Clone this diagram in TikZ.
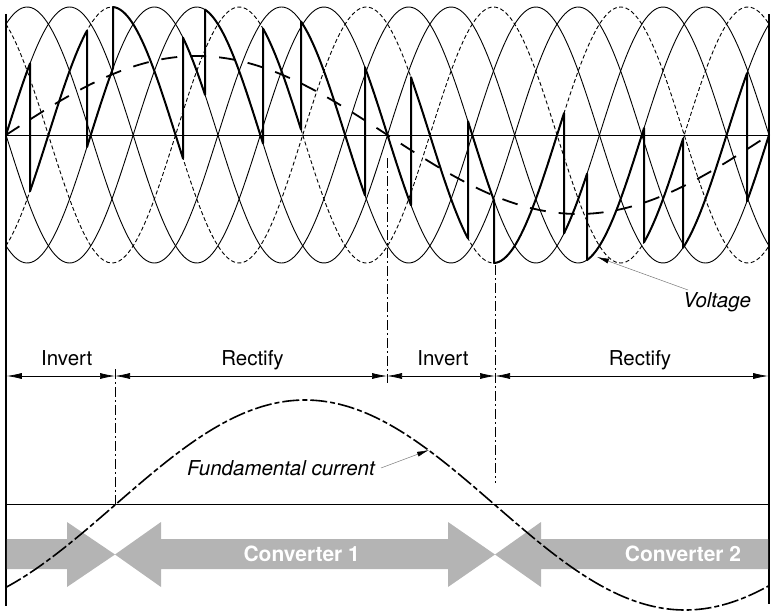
\documentclass[tikz,border=0pt]{standalone}
\usepackage{fontspec}
\setmainfont{TeX Gyre Heros}
\usetikzlibrary{arrows.meta}
\definecolor{arrowgray}{RGB}{180,180,180}
\definecolor{leadergray}{RGB}{120,120,120}
\begin{document}
\begin{tikzpicture}[x=1pt,y=-1pt,
  sinesolid/.style={line width=0.9pt},
  sinedash/.style={line width=0.9pt, dash pattern=on 4pt off 2.5pt},
  wavethick/.style={line width=2pt, line join=round, line cap=round},
  refvolt/.style={line width=1.8pt, dash pattern=on 16pt off 13pt},
  currentcurve/.style={line width=1.6pt, dash pattern=on 17pt off 3pt on 5pt off 3pt},
  dashdotline/.style={line width=0.9pt, dash pattern=on 10pt off 3pt on 2pt off 3pt},
  framel/.style={line width=1.5pt},
  dimline/.style={line width=0.7pt, {Latex[length=15pt,width=6pt]}-{Latex[length=15pt,width=6pt]}},
  lbl/.style={font=\fontsize{20.5}{24}\selectfont, anchor=base, inner sep=0pt},
  itlbl/.style={font=\fontsize{20.5}{24}\selectfont\itshape, anchor=base, inner sep=0pt},
  convlbl/.style={font=\fontsize{21}{24}\selectfont\bfseries, text=white, anchor=base, inner sep=0pt},
  leader/.style={line width=0.5pt, draw=leadergray, -{Latex[length=12pt,width=5pt,black]}},
  grayarrow/.style={fill=arrowgray, draw=none}
]
\useasboundingbox (0,0) rectangle (773,615);

% six supply phase voltages
\foreach \p in {0,120,180,300}
  \draw[sinesolid] plot[domain=6:769,samples=300] (\x,{135-128*sin((\x-6)*1.415465-\p)});
\foreach \p in {60,240}
  \draw[sinedash] plot[domain=6:769,samples=300] (\x,{135-128*sin((\x-6)*1.415465-\p)});

% axis
\draw[line width=1pt] (6,135) -- (769,135);

% dash-dot boundaries
\draw[dashdotline] (115,369) -- (115,504);
\draw[dashdotline] (387,158) -- (387,383);
\draw[dashdotline] (495,265) -- (495,483);

% output voltage (thick)
\foreach \p/\a/\b/\q in {0/6/30/60, 60/30/87/120, 120/87/113/60, 60/113/183/120,
  120/183/205/180, 180/205/263/240, 240/263/301/300, 300/301/365/0,
  0/365/411/60, 60/411/468/120, 120/468/494/60, 60/494/564/120,
  120/564/587/180, 180/587/644/240, 240/644/683/300, 300/683/747/0, 0/747/769/0}
  \draw[wavethick] plot[domain=\a:\b,samples=30] (\x,{135-128*sin((\x-6)*1.415465-\p)})
     -- (\b,{135-128*sin((\b-6)*1.415465-\q)});

% fundamental output voltage (dashed)
\draw[refvolt] plot[domain=6:769,samples=200] (\x,{135-79*sin((\x-6)*0.471822)});

% frame
\draw[framel] (6,14) -- (6,606);
\draw[framel] (769,14) -- (769,604);

% dimension arrows
\coordinate (d0) at (6.8,376);
\coordinate (d1) at (115,376);
\coordinate (d2) at (387,376);
\coordinate (d3) at (495,376);
\coordinate (d4) at (768.2,376);
\draw[dimline] (d0) -- (d1);
\draw[dimline] (d1) -- (d2);
\draw[dimline] (d2) -- (d3);
\draw[dimline] (d3) -- (d4);
\node[lbl] (inv1) at (66.7,365) {Invert};
\node[lbl] (rec1) at (252.5,365) {Rectify};
\node[lbl] (inv2) at (443,365) {Invert};
\node[lbl] (rec2) at (640,365) {Rectify};

% converter arrows
\fill[grayarrow] (6.8,539) -- (67,539) -- (67,522) -- (115,554.5) -- (67,587) -- (67,569) -- (6.8,569) -- cycle;
\fill[grayarrow] (115,554.5) -- (161,522) -- (161,539) -- (448,539) -- (448,522) -- (495,554.5)
   -- (448,587) -- (448,569) -- (161,569) -- (161,587) -- cycle;
\fill[grayarrow] (495,554.5) -- (541,522) -- (541,539) -- (768.2,539) -- (768.2,569) -- (541,569) -- (541,587) -- cycle;
\node[convlbl] (c1) at (301.7,561.7) {Converter 1};
\node[convlbl] (c2) at (683,561.7) {Converter 2};

% bottom reference line
\draw[line width=1pt] (6,504) -- (769,504);

% fundamental current
\draw[currentcurve] plot[domain=6:769,samples=200] (\x,{505-105*sin((\x-115)*0.473684)});

% labels with leaders
\node[itlbl] (fc) at (281,475) {Fundamental current};
\node[itlbl] (volt) at (717,307) {Voltage};
\coordinate (fctail) at (381,468);
\coordinate (fctip) at (429,450);
\draw[leader] (fctail) -- (fctip);
\coordinate (vtail) at (688,290);
\coordinate (vtip) at (597,257);
\draw[leader] (vtail) -- (vtip);
\end{tikzpicture}
\end{document}
